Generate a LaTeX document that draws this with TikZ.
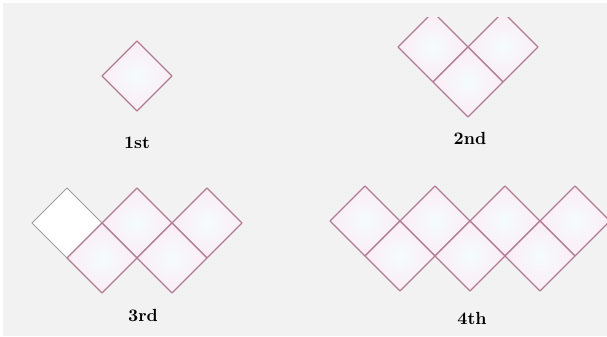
\documentclass[tikz,border=0pt]{standalone}
\usepackage{xcolor}
\usepackage{tikz}

\definecolor{cellline}{RGB}{176,124,146}
\definecolor{cellpink}{RGB}{252,236,245}
\definecolor{cellcyan}{RGB}{244,252,253}
\definecolor{paper}{RGB}{242,242,242}

% one diamond cell, centred at (#2,#3), half diagonal 35
\newcommand{\diacell}[3][cell]{%
  \path[#1] (#2-35,#3) -- (#2,#3-35) -- (#2+35,#3) -- (#2,#3+35) -- cycle;}

\begin{document}
\begin{tikzpicture}[
  x=0.02cm, y=-0.02cm,
  % Cell styles
  cell/.style={draw=cellline, line width=0.75pt, line join=round,
               inner color=cellcyan, outer color=cellpink},
  blankcell/.style={draw=black!38, line width=0.55pt, line join=round, fill=white},
  % Label style
  caption/.style={font=\bfseries, text=black},
]

  % ── Frame ──
  \fill[white] (0,0) rectangle (607,336);
  \fill[paper] (3,3) rectangle (607,336);
  \useasboundingbox (0,0) rectangle (607,336);
  \clip (0,0) rectangle (607,336);

  % ── 1st ──
  \diacell{137}{76}
  \node[caption] (lab1) at (137,143) {1st};

  % ── 2nd (top cut off) ──
  \begin{scope}
    \clip (3,17) rectangle (607,336);
    \foreach \cx/\cy in {433/47, 503/47, 468/82}
      {\diacell{\cx}{\cy}}
  \end{scope}
  \node[caption] (lab2) at (470,138) {2nd};

  % ── 3rd ──
  \diacell[blankcell]{67}{223}
  \foreach \cx/\cy in {137/223, 207/223, 102/258, 172/258}
    {\diacell{\cx}{\cy}}
  \node[caption] (lab3) at (143,315) {3rd};

  % ── 4th ──
  \foreach \cx/\cy in {365/221, 435/221, 505/221, 575/221,
                       400/256, 470/256, 540/256}
    {\diacell{\cx}{\cy}}
  \node[caption] (lab4) at (472,318) {4th};

\end{tikzpicture}
\end{document}
